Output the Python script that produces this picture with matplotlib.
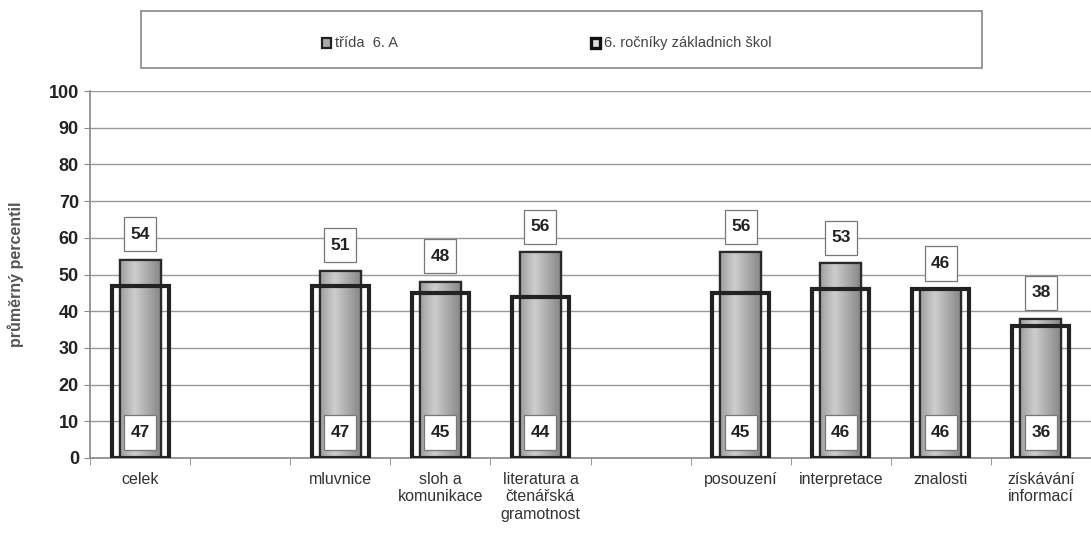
"""
Průměrný percentil - třída 6. A vs. 6. ročníky základních škol
"""

import numpy as np
import matplotlib
matplotlib.use("Agg")
import matplotlib.pyplot as plt
from matplotlib.patches import Rectangle

# ============================================================
# Data
# ============================================================
categories = ["celek", "", "mluvnice", "sloh a\nkomunikace",
              "literatura a\nčtenářská\ngramotnost", "",
              "posouzení", "interpretace", "znalosti", "získávání\ninformací"]
trida_6a = [54, None, 51, 48, 56, None, 56, 53, 46, 38]
rocniky_6 = [47, None, 47, 45, 44, None, 45, 46, 46, 36]
legend_labels = ["třída  6. A", "6. ročníky základnich škol"]
y_ticks = [0, 10, 20, 30, 40, 50, 60, 70, 80, 90, 100]

FONT = ["Liberation Sans Narrow", "Liberation Sans", "DejaVu Sans"]
plt.rcParams["font.family"] = FONT

W, H = 1091, 544
fig = plt.figure(figsize=(W / 100, H / 100), dpi=100)
ax = fig.add_axes([90 / W, 1 - 458 / H, 1 - 90 / W, (458 - 91) / H])

x = np.arange(len(categories))
OUTER_W = 0.57
INNER_W = 0.41
BOX_W, BOX_H = 0.32, 9.4     # value label boxes (data units)

# grey gradient (cylinder-like) for the class bars
prof = np.concatenate([np.linspace(0.62, 0.80, 35), np.linspace(0.80, 0.52, 65)])
grad = np.tile(prof, (2, 1))


def value_box(xc, yc, v):
    ax.add_patch(Rectangle((xc - BOX_W / 2, yc - BOX_H / 2), BOX_W, BOX_H,
                           fc="white", ec="#777777", lw=0.9, zorder=5))
    ax.text(xc, yc, f"{v}", ha="center", va="center", fontsize=12.5,
            fontweight="bold", color="#222222", zorder=6)


for xi, v in zip(x, trida_6a):
    if v is None:
        continue
    bar = ax.bar(xi, v, width=INNER_W, color="#a8a8a8", edgecolor="#2a2a2a",
                 linewidth=1.6, zorder=2)[0]
    im = ax.imshow(grad, cmap="gray", vmin=0, vmax=1, aspect="auto",
                   extent=(xi - INNER_W / 2, xi + INNER_W / 2, 0, v), zorder=2.1)
    im.set_clip_path(bar)
    ax.bar(xi, v, width=INNER_W, color="none", edgecolor="#2a2a2a",
           linewidth=1.6, zorder=2.2)
    value_box(xi, v + 7, v)

for xi, v in zip(x, rocniky_6):
    if v is None:
        continue
    ax.bar(xi, v, width=OUTER_W, color="none", edgecolor="#222222",
           linewidth=3.0, zorder=3)
    value_box(xi, 7, v)

ax.set_xlim(-0.5, 9.41)
ax.set_ylim(0, 100)
ax.set_yticks(y_ticks)
ax.set_yticklabels([str(t) for t in y_ticks], fontsize=13, fontweight="bold",
                   color="#222222")
ax.set_xticks(x)
ax.set_xticklabels(categories, fontsize=11.5, color="#333333", linespacing=1.2)
ax.set_xticks(np.arange(-0.5, 10, 1), minor=True)
ax.tick_params(axis="x", which="major", length=0, pad=10)
ax.tick_params(axis="x", which="minor", length=5, color="#888888", direction="out")
ax.tick_params(axis="y", length=4, color="#888888", pad=4)

ax.yaxis.grid(True, color="#9a9a9a", linewidth=1.0, zorder=0)
ax.set_axisbelow(True)
for side in ["top", "right"]:
    ax.spines[side].set_visible(False)
ax.spines["left"].set_color("#888888")
ax.spines["bottom"].set_color("#888888")
ax.spines["left"].set_linewidth(1.2)
ax.spines["bottom"].set_linewidth(1.2)

ax.set_ylabel("průměrný percentil", fontsize=11.5, fontweight="bold",
              color="#555555", labelpad=18, family=["Liberation Sans", "DejaVu Sans"])

# legend box at the top
fig.patches.append(Rectangle((141 / W, 1 - 68 / H), (982 - 141) / W, 57 / H,
                             transform=fig.transFigure, fc="white", ec="#888888",
                             lw=1.2, zorder=1))
fig.patches.append(Rectangle((322 / W, 1 - 48 / H), 9 / W, 10 / H,
                             transform=fig.transFigure, fc="#aaaaaa", ec="#222222",
                             lw=1.6, zorder=2))
fig.patches.append(Rectangle((591 / W, 1 - 48 / H), 9 / W, 10 / H,
                             transform=fig.transFigure, fc="#dddddd", ec="#111111",
                             lw=2.4, zorder=2))
fig.text(335 / W, 1 - 43 / H, legend_labels[0], fontsize=10.5, color="#444444",
         va="center", ha="left")
fig.text(604 / W, 1 - 43 / H, legend_labels[1], fontsize=10.5, color="#444444",
         va="center", ha="left")

fig.savefig("out.png", dpi=100)
